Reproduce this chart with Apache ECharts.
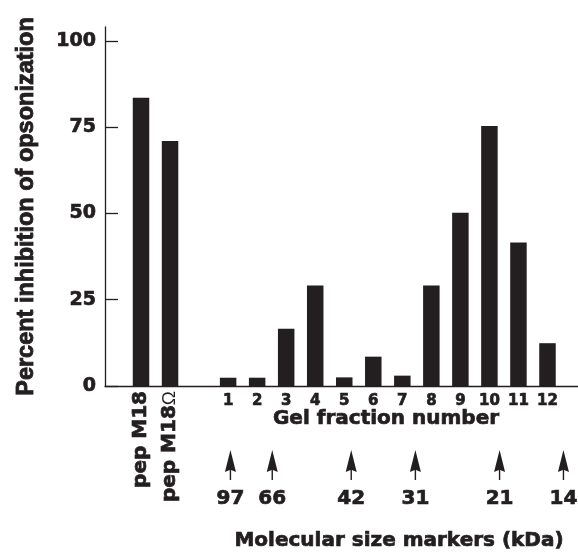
<!DOCTYPE html>
<html>
<head>
<meta charset="utf-8">
<script src="https://cdn.jsdelivr.net/npm/echarts@6/dist/echarts.min.js"></script>
<style>
html,body{margin:0;padding:0;background:#fff;}
#chart{width:578px;height:554px;}
</style>
</head>
<body>
<div id="chart"></div>
<script>
// ---- data ----
const categories = ['pep M18', 'pep M18Ω', '', '1', '2', '3', '4', '5', '6', '7', '8', '9', '10', '11', '12'];
const inhibition = [83.5, 71.0, null, 2.4, 2.4, 16.6, 29.1, 2.5, 8.5, 3.0, 29.1, 50.2, 75.3, 41.6, 12.4];
const yTicks = [0, 25, 50, 75, 100];
const markerFractions = [1.08, 2.52, 5.24, 7.45, 10.35, 12.55];
const markerLabels = ['97', '66', '42', '31', '21', '14'];
const yTitle = 'Percent inhibition of opsonization';
const xTitle = 'Gel fraction number';
const markerTitle = 'Molecular size markers (kDa)';

const INK = '#231f20';
const FONT = 'DejaVu Sans';
const HEAVY = {textBorderColor: INK, textBorderWidth: 0.7};

const chart = echarts.init(document.getElementById('chart'), null, {renderer: 'canvas'});

const isPep = v => v.indexOf('pep') === 0;

const option = {
  backgroundColor: '#fff',
  animation: false,
  grid: [
    {left: 126.5, right: 16, top: 27, bottom: 168, outerBoundsMode: 'none'},
    {left: 105, right: 0, top: 27, bottom: 168, outerBoundsMode: 'none'},
    {left: 126.5, right: 16, top: 450, height: 30, outerBoundsMode: 'none'}
  ],
  xAxis: [
    {
      type: 'category', gridIndex: 0, data: categories, position: 'bottom',
      axisLine: {show: false}, axisTick: {show: false},
      axisLabel: Object.assign({
        interval: 0, margin: 7.5, color: INK, fontFamily: FONT, fontWeight: 'bold', fontSize: 15,
        formatter: v => isPep(v) ? '' : v
      }, HEAVY)
    },
    {
      type: 'category', gridIndex: 0, data: categories, position: 'bottom',
      axisLine: {show: false}, axisTick: {show: false},
      axisLabel: {
        interval: 0, rotate: 90, margin: 5, color: INK, fontFamily: FONT, fontWeight: 'bold', fontSize: 20,
        formatter: v => {
          if (!isPep(v)) return '';
          if (v.indexOf('Ω') >= 0) return '{b|' + v.replace('Ω', '') + '}{o|Ω}';
          return '{b|' + v + '}';
        },
        rich: {
          b: Object.assign({fontFamily: FONT, fontWeight: 'bold', fontSize: 20, color: INK}, HEAVY),
          o: {fontFamily: 'Liberation Sans', fontWeight: 'normal', fontSize: 19, color: INK}
        }
      }
    },
    {
      type: 'value', gridIndex: 1, min: 0, max: 1,
      axisLine: {show: true, onZero: false, lineStyle: {color: INK, width: 1.3}},
      axisTick: {show: false}, axisLabel: {show: false}, splitLine: {show: false}
    },
    {
      type: 'value', gridIndex: 2, min: -2.5, max: 12.5, show: false
    }
  ],
  yAxis: [
    {
      type: 'value', gridIndex: 0, min: 0, max: 104, interval: 25, offset: 21.5,
      name: yTitle, nameLocation: 'middle', nameGap: 66,
      nameTextStyle: Object.assign({fontFamily: 'Liberation Sans', fontWeight: 'bold', fontSize: 23.5, color: INK}, {textBorderColor: INK, textBorderWidth: 0.9}),
      axisLine: {show: true, lineStyle: {color: INK, width: 1.3}},
      axisTick: {show: true, inside: true, length: 13, customValues: yTicks, lineStyle: {color: INK, width: 1.3}},
      axisLabel: Object.assign({
        margin: 9, color: INK, fontFamily: FONT, fontWeight: 'bold', fontSize: 19,
        customValues: yTicks,
        formatter: v => yTicks.indexOf(v) >= 0 ? String(v) : ''
      }, HEAVY),
      splitLine: {show: false}
    },
    {type: 'value', gridIndex: 1, show: false, min: 0, max: 1},
    {type: 'value', gridIndex: 2, show: false, min: 0, max: 1}
  ],
  series: [
    {
      type: 'bar', xAxisIndex: 0, yAxisIndex: 0,
      data: inhibition, barWidth: 16.5,
      itemStyle: {color: INK, opacity: 1}
    },
    {
      type: 'scatter', xAxisIndex: 3, yAxisIndex: 2, clip: false,
      data: markerFractions.map((f, i) => ({value: [f, 0.5], name: markerLabels[i]})),
      symbol: 'path://M5.5,0 L11,22 L6.2,20 L6.2,30 L4.8,30 L4.8,20 L0,22 Z',
      symbolSize: [11, 30],
      itemStyle: {color: INK, opacity: 1},
      label: Object.assign({
        show: true, position: 'bottom', distance: 9, opacity: 1,
        formatter: p => p.name,
        color: INK, fontFamily: FONT, fontWeight: 'bold', fontSize: 20
      }, HEAVY)
    }
  ],
  graphic: [
    {
      type: 'text', x: 386, y: 418.7,
      style: {text: xTitle, fill: INK, stroke: INK, lineWidth: 0.7, font: 'bold 20px "DejaVu Sans"', textAlign: 'center', textVerticalAlign: 'middle'}
    },
    {
      type: 'text', x: 399, y: 540.5,
      style: {text: markerTitle, fill: INK, stroke: INK, lineWidth: 0.7, font: 'bold 20px "DejaVu Sans"', textAlign: 'center', textVerticalAlign: 'middle'}
    }
  ]
};
chart.setOption(option);
</script>
</body>
</html>
